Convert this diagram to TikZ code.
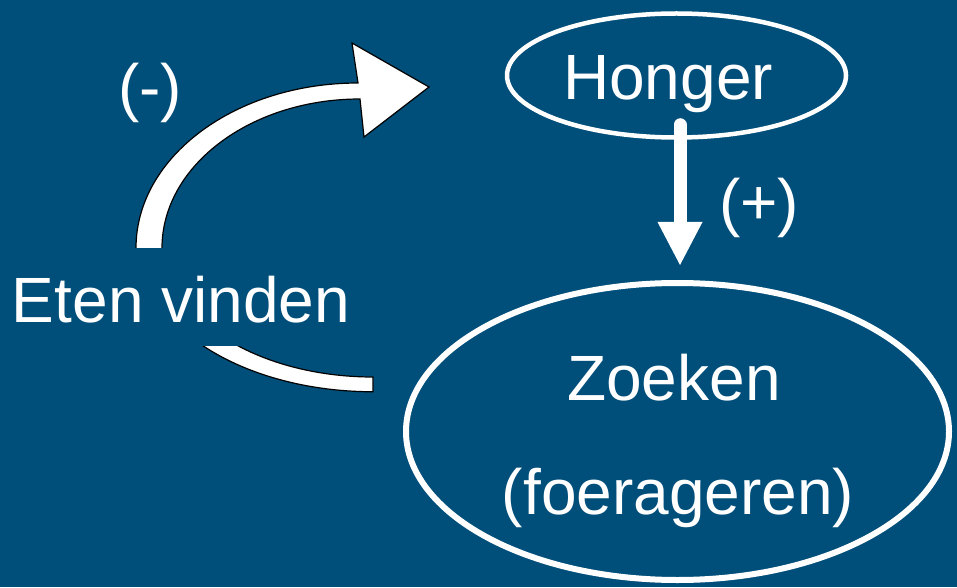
\documentclass[tikz,border=0pt]{standalone}
\usepackage{fontspec}
\setmainfont{Liberation Sans}
\usetikzlibrary{arrows.meta,shapes.geometric,calc}
\definecolor{bgblue}{RGB}{0,78,122}

\begin{document}
\begin{tikzpicture}[x=1pt,y=1pt,
    every node/.style={text=white,font=\fontsize{64}{77}\selectfont},
    bubble/.style={ellipse,draw=white,inner sep=0pt},
    blockarrow/.style={fill=white,draw=black,line width=1.2pt,line join=miter}]

        \useasboundingbox (0,0) rectangle (957,587);
        \fill[bgblue] (0,0) rectangle (957,587);

        \node[bubble,line width=4.5pt,minimum width=339pt,minimum height=124pt] (honger) at (676.5,511.5) {};
        \node[bubble,line width=6pt,minimum width=543pt,minimum height=297pt] (zoeken) at (677.5,155.5) {};

        \node[anchor=base] (honger_txt) at (668,487) {Honger};
        \node[anchor=base] (zoeken_txt) at (674,187) {Zoeken};
        \node[anchor=base] (foerageren_txt) at (678,73) {(foerageren)};
        \node[anchor=base] (min_txt) at (150,477) {(-)};
        \node[anchor=base] (plus_txt) at (759,362) {(+)};

        % (+) arrow
        \draw[white,line width=13pt,line cap=round,-{Triangle[length=43pt,width=45pt,line width=0pt]}]
            ($(honger.south)+(3.5,15)$) -- ($(zoeken.north)+(2.5,15)$);

        % (-) loop, the box of the text covers both ends
        \draw[blockarrow] (136,310) -- (136,339) arc[start angle=180,end angle=90,x radius=222,y radius=165]
            -- (352,544) -- (429,500) -- (364,450) -- (360,488)
            arc[start angle=90,end angle=180,x radius=198,y radius=149] -- (162,310) -- cycle;
        \draw[blockarrow] (155,290) arc[start angle=200,end angle=270,x radius=232,y radius=144]
            -- (373,210) arc[start angle=270,end angle=205,x radius=207,y radius=129] -- cycle;

        \node[anchor=base,fill=bgblue,inner sep=0pt,text height=74pt,text depth=24pt] (eten) at (181,265) {Eten vinden};

    \end{tikzpicture}
\end{document}
